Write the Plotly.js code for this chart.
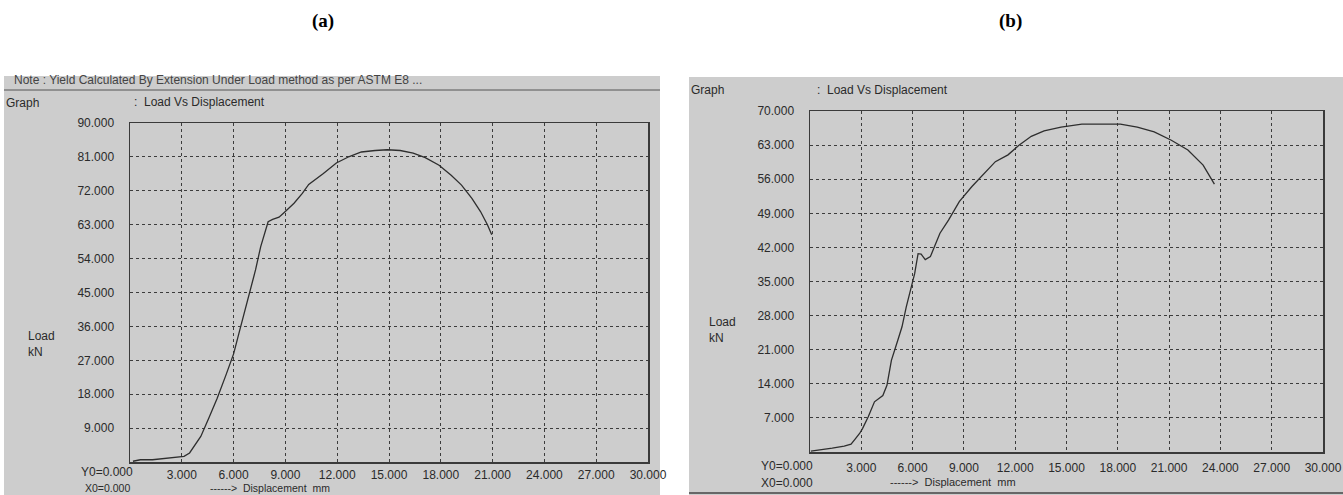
<!DOCTYPE html>
<html>
<head>
<meta charset="utf-8">
<script src="https://cdn.plot.ly/plotly-3.0.1.min.js"></script>
<style>
html,body{margin:0;padding:0;background:#fff;}
#chart{width:1343px;height:495px;}
</style>
</head>
<body>
<div id="chart"></div>
<script>
// ---- data ----
const dispTicks = [3, 6, 9, 12, 15, 18, 21, 24, 27, 30];
const loadTicksA = [9, 18, 27, 36, 45, 54, 63, 72, 81, 90];
const loadTicksB = [7, 14, 21, 28, 35, 42, 49, 56, 63, 70];

// (a) Load (kN) vs Displacement (mm)
const dispA = [0.17, 0.6, 1.3, 2.3, 3.13, 3.45, 3.8, 4.1, 4.56, 5.05, 5.55, 6.0, 6.3, 6.58, 6.9, 7.27, 7.57, 7.8, 8.0, 8.26, 8.63, 8.87, 9.5, 9.98, 10.35, 11.2, 11.95, 12.7, 13.4, 14.2, 14.9, 15.65, 16.4, 17.1, 17.9, 18.6, 19.2, 19.8, 20.3, 20.7, 20.95];
const loadA = [0.2, 0.6, 0.6, 1.0, 1.5, 2.4, 4.6, 6.8, 11.6, 16.9, 23.0, 28.7, 34.0, 38.8, 45.0, 51.0, 57.2, 60.8, 63.8, 64.4, 65.0, 66.0, 68.7, 71.3, 73.7, 76.6, 79.4, 81.1, 82.3, 82.7, 82.9, 82.7, 82.0, 80.8, 78.8, 76.1, 73.5, 70.0, 66.5, 63.0, 60.3];

// (b) Load (kN) vs Displacement (mm)
const dispB = [0.05, 0.55, 1.3, 2.0, 2.4, 2.65, 2.9, 3.07, 3.4, 3.77, 4.0, 4.26, 4.5, 4.76, 5.13, 5.38, 5.63, 5.88, 6.12, 6.32, 6.5, 6.74, 7.04, 7.24, 7.6, 8.1, 8.73, 9.47, 10.2, 10.84, 11.58, 12.2, 12.94, 13.69, 14.68, 15.9, 17.16, 18.15, 19.14, 20.13, 21.13, 22.1, 22.99, 23.65];
const loadB = [0.2, 0.5, 0.8, 1.2, 1.6, 2.7, 3.8, 4.8, 7.2, 10.3, 11.0, 11.6, 13.7, 18.8, 22.9, 25.7, 29.8, 33.2, 36.6, 40.7, 40.6, 39.5, 40.1, 41.8, 44.9, 47.6, 51.4, 54.5, 57.3, 59.6, 61.0, 62.9, 64.8, 65.9, 66.7, 67.3, 67.3, 67.3, 66.7, 65.7, 64.0, 62.0, 58.9, 55.0];

// ---- layout helpers ----
const W = 1343, H = 495;
const px = v => v / W;
const py = v => 1 - v / H;
const FONT = 'Liberation Sans, Arial, sans-serif';
const TXT = '#2a2a2a';
const fmt = v => v.toFixed(3);

const lineStyle = {color: '#2e2e2e', width: 1.3};

const traces = [
  {x: dispA, y: loadA, type: 'scatter', mode: 'lines', line: lineStyle, xaxis: 'x', yaxis: 'y', hoverinfo: 'x+y'},
  {x: dispB, y: loadB, type: 'scatter', mode: 'lines', line: lineStyle, xaxis: 'x2', yaxis: 'y2', hoverinfo: 'x+y'}
];

function xAxis(domain, standoff) {
  return {
    domain: domain, range: [0, 30], tickmode: 'array',
    tickvals: dispTicks, ticktext: dispTicks.map(fmt),
    showgrid: true, gridcolor: '#3c3c3c', griddash: 'dot', gridwidth: 1,
    showline: true, mirror: true, linecolor: '#3a3a3a', linewidth: 1.5,
    zeroline: false, ticks: '', ticklabelstandoff: standoff, ticklabeloverflow: 'allow',
    tickfont: {family: FONT, size: 12, color: TXT}, fixedrange: true
  };
}
function yAxis(domain, maxv, ticks) {
  return {
    domain: domain, range: [0, maxv], tickmode: 'array',
    tickvals: ticks, ticktext: ticks.map(fmt),
    showgrid: true, gridcolor: '#3c3c3c', griddash: 'dot', gridwidth: 1,
    showline: true, mirror: true, linecolor: '#3a3a3a', linewidth: 1.5,
    zeroline: false, ticks: '', ticklabelstandoff: 12,
    tickfont: {family: FONT, size: 12, color: TXT}, fixedrange: true
  };
}

function ann(text, x, y, opts) {
  return Object.assign({
    text: text, x: px(x), y: py(y), xref: 'paper', yref: 'paper',
    showarrow: false, xanchor: 'left', yanchor: 'middle',
    font: {family: FONT, size: 12, color: TXT}
  }, opts || {});
}

const small = {family: FONT, size: 10.5, color: TXT};

const annotations = [
  ann('<b>(a)</b>', 323, 21, {xanchor: 'center', font: {family: 'Liberation Serif, Times New Roman, serif', size: 19, color: '#000'}}),
  ann('<b>(b)</b>', 1010, 21, {xanchor: 'center', font: {family: 'Liberation Serif, Times New Roman, serif', size: 19, color: '#000'}}),
  // panel a texts
  ann('Note : Yield Calculated By Extension Under Load method as per ASTM E8 ...', 12, 80, {font: {family: FONT, size: 12, color: '#444'}}),
  ann('Graph', 4, 103),
  ann(':  Load Vs Displacement', 132, 102),
  ann('Load', 26, 336),
  ann('kN', 26, 352),
  ann('Y0=0.000', 107, 472, {xanchor: 'center'}),
  ann('X0=0.000', 107, 488, {xanchor: 'center', font: small}),
  ann('------&gt;  Displacement  mm', 208, 488, {font: small}),
  // panel b texts
  ann('Graph', 689, 90),
  ann(':  Load Vs Displacement', 815, 90),
  ann('Load', 707, 322),
  ann('kN', 707, 338),
  ann('Y0=0.000', 787, 466, {xanchor: 'center'}),
  ann('X0=0.000', 787, 483, {xanchor: 'center'}),
  ann('------&gt;  Displacement  mm', 888, 482, {font: {family: FONT, size: 11, color: TXT}})
];

const shapes = [
  {type: 'rect', xref: 'paper', yref: 'paper', x0: px(4), x1: px(660), y0: py(495), y1: py(76), fillcolor: '#cdcdcd', line: {width: 0}, layer: 'below'},
  {type: 'rect', xref: 'paper', yref: 'paper', x0: px(689), x1: px(1343), y0: py(495), y1: py(77), fillcolor: '#cdcdcd', line: {width: 0}, layer: 'below'},
  {type: 'line', xref: 'paper', yref: 'paper', x0: px(4), x1: px(660), y0: py(90), y1: py(90), line: {color: '#555', width: 1}, layer: 'below'},
  {type: 'line', xref: 'paper', yref: 'paper', x0: px(689), x1: px(1343), y0: py(493), y1: py(493), line: {color: '#444', width: 1.5}, layer: 'below'}
];

const layout = {
  width: W, height: H,
  margin: {l: 0, r: 0, t: 0, b: 0},
  paper_bgcolor: '#ffffff', plot_bgcolor: 'rgba(0,0,0,0)',
  showlegend: false,
  xaxis: xAxis([px(130), px(648)], 1),
  yaxis: yAxis([py(462), py(123)], 90, loadTicksA),
  xaxis2: Object.assign(xAxis([px(810), px(1323)], 4), {anchor: 'y2'}),
  yaxis2: Object.assign(yAxis([py(452), py(111)], 70, loadTicksB), {anchor: 'x2'}),
  annotations: annotations,
  shapes: shapes
};
layout.xaxis.anchor = 'y';
layout.yaxis.anchor = 'x';

Plotly.newPlot('chart', traces, layout, {displayModeBar: false, staticPlot: true});
</script>
</body>
</html>
